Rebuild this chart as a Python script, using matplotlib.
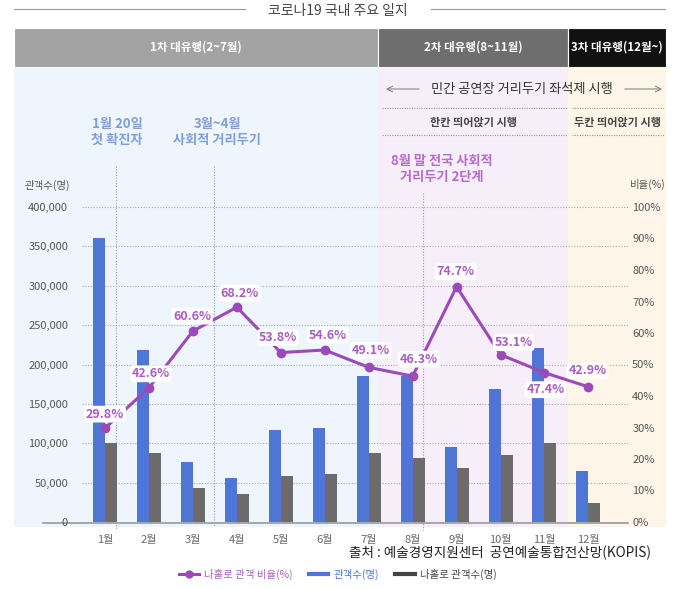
import matplotlib
matplotlib.use("Agg")
import matplotlib.pyplot as plt
import numpy as np
from matplotlib.patches import Rectangle
from matplotlib.lines import Line2D

plt.rcParams["font.family"] = ["Noto Sans CJK KR", "DejaVu Sans"]

# 데이터
months = ["1월", "2월", "3월", "4월", "5월", "6월", "7월", "8월", "9월", "10월", "11월", "12월"]
audience = [360000, 219000, 76000, 56000, 117000, 119000, 186000, 185000, 95000, 169000, 221000, 65000]
solo_audience = [100500, 87500, 43000, 35000, 58500, 61000, 87500, 81000, 69000, 84500, 100000, 23500]
solo_ratio = [29.8, 42.6, 60.6, 68.2, 53.8, 54.6, 49.1, 46.3, 74.7, 53.1, 47.4, 42.9]
left_ticks = [0, 50000, 100000, 150000, 200000, 250000, 300000, 350000, 400000]
right_ticks = [0, 10, 20, 30, 40, 50, 60, 70, 80, 90, 100]

# 라벨 위치 보정(px)
label_off = [(0, 14), (2, 14), (-1, 15), (3, 14), (-3, 15), (3, 15),
             (2, 17), (6, 17), (-1, 15), (13, 12), (1, -17), (-1, 16)]

W, H = 676, 589
BLUE = "#4f76d5"
GRAY = "#6b6b6b"
PURPLE = "#9b4bb7"
PURPLE_T = "#a95ec3"
ANN_BLUE = "#7f9fd9"
ANN_PURPLE = "#b66ccb"
TXT = "#555555"

fig = plt.figure(figsize=(W / 100, H / 100), dpi=100)
fig.patch.set_facecolor("white")

# 배경/장식용 픽셀 좌표 축
bg = fig.add_axes([0, 0, 1, 1])
bg.set_xlim(0, W); bg.set_ylim(H, 0); bg.axis("off")
bg.set_zorder(0)

# 상단 제목
bg.plot([14, 245], [9, 9], color="#999", lw=0.8)
bg.plot([431, 665], [9, 9], color="#999", lw=0.8)
bg.text(338, 11, "코로나19 국내 주요 일지", ha="center", va="center", fontsize=10, color="#444")

# 유행 구간 헤더
for x0, x1, c, t in [(14, 378, "#a3a3a3", "1차 대유행(2~7월)"),
                     (378, 568, "#6e6e6e", "2차 대유행(8~11월)"),
                     (568, 666, "#111111", "3차 대유행(12월~)")]:
    bg.add_patch(Rectangle((x0, 28), x1 - x0, 39, facecolor=c, edgecolor="white", lw=0.8))
    bg.text((x0 + x1) / 2, 47.5, t, ha="center", va="center", fontsize=8.3,
            color="white", fontweight="bold")

# 구간 배경
for x0, x1, c in [(14, 378, "#eff5fd"), (378, 568, "#f6eef9"), (568, 666, "#fdf6e8")]:
    bg.add_patch(Rectangle((x0, 67), x1 - x0, 460, facecolor=c, edgecolor="none"))

# 거리두기 좌석제
bg.text(522, 89, "민간 공연장 거리두기 좌석제 시행", ha="center", va="center",
        fontsize=9.5, color="#333", fontweight="medium")
bg.annotate("", xy=(383, 89), xytext=(422, 89),
            arrowprops=dict(arrowstyle="->", color="#888", lw=0.8))
bg.annotate("", xy=(665, 89), xytext=(622, 89),
            arrowprops=dict(arrowstyle="->", color="#888", lw=0.8))
for y in (108, 135):
    bg.plot([382, 567], [y, y], color="#999", lw=0.8, ls=(0, (1, 1.2)))
    bg.plot([572, 665], [y, y], color="#999", lw=0.8, ls=(0, (1, 1.2)))
bg.text(473, 122, "한칸 띄어앉기 시행", ha="center", va="center", fontsize=8,
        color="#444", fontweight="bold")
bg.text(617, 122, "두칸 띄어앉기 시행", ha="center", va="center", fontsize=8,
        color="#444", fontweight="bold")

# 주요 사건 표시
bg.text(117, 132, "1월 20일\n첫 확진자", ha="center", va="center", fontsize=9.5,
        color=ANN_BLUE, fontweight="bold", linespacing=1.15)
bg.text(217, 132, "3월~4월\n사회적 거리두기", ha="center", va="center", fontsize=9.5,
        color=ANN_BLUE, fontweight="bold", linespacing=1.15)
bg.text(442, 169, "8월 말 전국 사회적\n거리두기 2단계", ha="center", va="center", fontsize=9.5,
        color=ANN_PURPLE, fontweight="bold", linespacing=1.15)
bg.plot([116, 116], [166, 530], color="#8f9ab8", lw=0.8, ls=(0, (1, 1.5)))
bg.plot([214, 214], [166, 526], color="#8f9ab8", lw=0.8, ls=(0, (1, 1.5)))
bg.plot([423, 423], [193, 530], color="#b58ac6", lw=0.8, ls=(0, (1, 1.5)))

# 축 제목, 기준선
bg.text(47, 185, "관객수(명)", ha="center", va="center", fontsize=7.5, color=TXT)
bg.text(648, 184, "비율(%)", ha="center", va="center", fontsize=7.5, color=TXT)
bg.plot([43, 628], [523, 523], color="#999", lw=1.2)

# 메인 차트
ax = fig.add_axes([82 / W, 1 - 522 / H, (628 - 82) / W, (522 - 207) / H])
ax.set_zorder(1)
ax.patch.set_visible(False)
x = np.arange(len(months))
bw = 0.273
ax.bar(x - bw / 2, audience, bw, color=BLUE, zorder=2)
ax.bar(x + bw / 2, solo_audience, bw, color=GRAY, zorder=2)
ax.set_xlim(-0.523, 11.9)
ax.set_ylim(0, 400000)
ax.set_yticks(left_ticks)
ax.set_yticklabels([f"{v:,}" for v in left_ticks])
ax.set_xticks(x)
ax.set_xticklabels(months)
ax.tick_params(axis="y", length=0, pad=10, labelsize=8, labelcolor=TXT)
ax.tick_params(axis="x", length=0, pad=9, labelsize=8, labelcolor="#666")
ax.yaxis.grid(True, color="#a8a8a8", lw=0.8, ls=(0, (1, 1.5)))
ax.set_axisbelow(True)
for s in ax.spines.values():
    s.set_visible(False)

ax2 = ax.twinx()
ax2.set_zorder(2)
ax2.set_ylim(0, 100)
ax2.set_yticks(right_ticks)
ax2.set_yticklabels([f"{v}%" for v in right_ticks])
ax2.tick_params(axis="y", length=0, pad=3, labelsize=8, labelcolor=TXT)
for s in ax2.spines.values():
    s.set_visible(False)
ax2.plot(x, solo_ratio, color=PURPLE, lw=2.2, marker="o", ms=6, zorder=3)
for xi, v, (dx, dy) in zip(x, solo_ratio, label_off):
    ax2.annotate(f"{v}%", (xi, v), xytext=(dx * 0.72, dy * 0.72), textcoords="offset points",
                 ha="center", va="center", fontsize=9, fontweight="bold", color=PURPLE_T,
                 bbox=dict(boxstyle="round,pad=0.15,rounding_size=0.3", fc="white", ec="none"),
                 zorder=4)

# 출처, 범례
fig.text(651 / W, 1 - 553 / H, "출처 : 예술경영지원센터  공연예술통합전산망(KOPIS)",
         ha="right", va="center", fontsize=9.8, color="#222")
handles = [Line2D([], [], color=PURPLE, lw=2.2, marker="o", ms=5),
           Line2D([], [], color=BLUE, lw=3),
           Line2D([], [], color="#444", lw=3)]
leg = fig.legend(handles, ["나홀로 관객 비율(%)", "관객수(명)", "나홀로 관객수(명)"],
                 loc="center", bbox_to_anchor=(338 / W, 1 - 574 / H), ncol=3,
                 frameon=False, fontsize=7.5, handlelength=1.9, columnspacing=1.5,
                 handletextpad=0.5)
for t, c in zip(leg.get_texts(), [PURPLE_T, BLUE, "#444"]):
    t.set_color(c)

fig.savefig("out.png", dpi=100)
